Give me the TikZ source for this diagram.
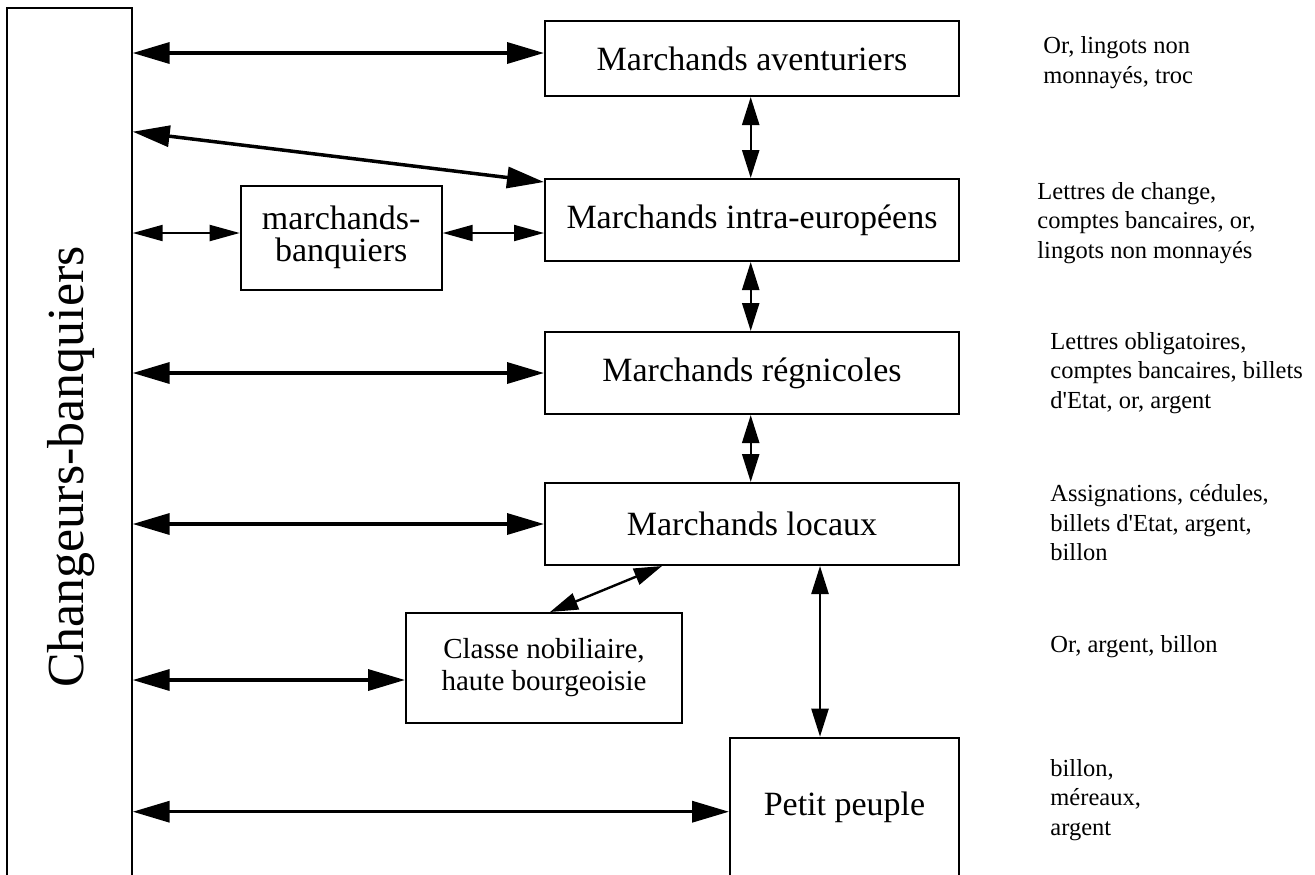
\documentclass[tikz,border=0pt]{standalone}
\usepackage{fontspec}
\setmainfont{Liberation Serif}[Ligatures=TeXOff]
\usetikzlibrary{arrows.meta,calc}
\tikzset{
  box/.style={draw, line width=1pt, inner sep=0pt, align=center, font=\fontsize{17pt}{16pt}\selectfont},
  side/.style={inner sep=0pt, anchor=west, align=left, font=\fontsize{12.25pt}{14.75pt}\selectfont},
  thickarrow/.style={line width=1.75pt, {Triangle[length=18.5pt,width=10.5pt]}-{Triangle[length=18.5pt,width=10.5pt]}},
  midarrow/.style={line width=1.2pt, {Triangle[length=14pt,width=8.5pt]}-{Triangle[length=14pt,width=8.5pt]}},
  thinarrow/.style={line width=1pt, {Triangle[length=15pt,width=8pt]}-{Triangle[length=15pt,width=8pt]}}
}
\begin{document}
\begin{tikzpicture}[x=0.5pt,y=-0.5pt]
\useasboundingbox (0,0) rectangle (1315,874);
\clip (0,0) rectangle (1315,874);
% left tall box
\node[box, minimum width=62.2pt, minimum height=458.7pt] (cb) at (69.5,467) {};
\node[inner sep=0pt, rotate=90, font=\fontsize{26pt}{30pt}\selectfont] (cbt) at (71,467) {Changeurs-banquiers};
% central boxes
\node[box, minimum width=207pt, minimum height=37.5pt] (ma) at (752,58.5) {Marchands aventuriers};
\node[box, minimum width=207pt, minimum height=41pt] (mie) at (752,220) {Marchands intra-européens};
\node[box, minimum width=207pt, minimum height=41pt] (mr) at (752,373) {Marchands régnicoles};
\node[box, minimum width=207pt, minimum height=41pt] (ml) at (752,524) {Marchands locaux};
\node[box, minimum width=100.5pt, minimum height=52pt] (mb) at (341.2,237.8) {marchands-\\banquiers};
\node[box, minimum width=138pt, minimum height=55pt, font=\fontsize{14.5pt}{16pt}\selectfont] (cn) at (544,668) {Classe nobiliaire,\\haute bourgeoisie};
\node[box, minimum width=114.5pt, minimum height=69.3pt] (pp) at (844.5,807) {Petit peuple};
% side texts
\node[side] (t1) at (1043,62.5) {Or, lingots non\\monnayés, troc};
\node[side] (t2) at (1037,223) {Lettres de change,\\comptes bancaires, or,\\lingots non monnayés};
\node[side] (t3) at (1050,373) {Lettres obligatoires,\\comptes bancaires, billets\\d'Etat, or, argent};
\node[side] (t4) at (1050,523) {Assignations, cédules,\\billets d'Etat, argent,\\billon};
\node[side] (t5) at (1050,647) {Or, argent, billon};
\node[side] (t6) at (1050,800) {billon,\\méreaux,\\argent};
% connectors from the left box
\draw[thickarrow] (cb.east |- 0,53) -- (ma.west |- 0,53);
\draw[thickarrow] (cb.east |- 0,131.7) -- ($(mie.north west)+(0,4)$);
\draw[thinarrow] (cb.east |- 0,233) -- (mb.west |- 0,233);
\draw[thinarrow] (mb.east |- 0,233) -- (mie.west |- 0,233);
\draw[thickarrow] (cb.east |- mr.west) -- (mr.west);
\draw[thickarrow] (cb.east |- ml.west) -- (ml.west);
\draw[thickarrow] (cb.east |- 0,680) -- (cn.west |- 0,680);
\draw[thickarrow] (cb.east |- 0,811.7) -- (pp.west |- 0,811.7);
% vertical connectors
\draw[midarrow] (ma.south -| 750.7,0) -- (mie.north -| 750.7,0);
\draw[midarrow] (mie.south -| 750.7,0) -- (mr.north -| 750.7,0);
\draw[midarrow] (mr.south -| 750.7,0) -- (ml.north -| 750.7,0);
\draw[midarrow] (ml.south -| 820,0) -- (pp.north -| 820,0);
\draw[midarrow] (cn.north -| 550,0) -- (ml.south -| 662,0);
\end{tikzpicture}
\end{document}
